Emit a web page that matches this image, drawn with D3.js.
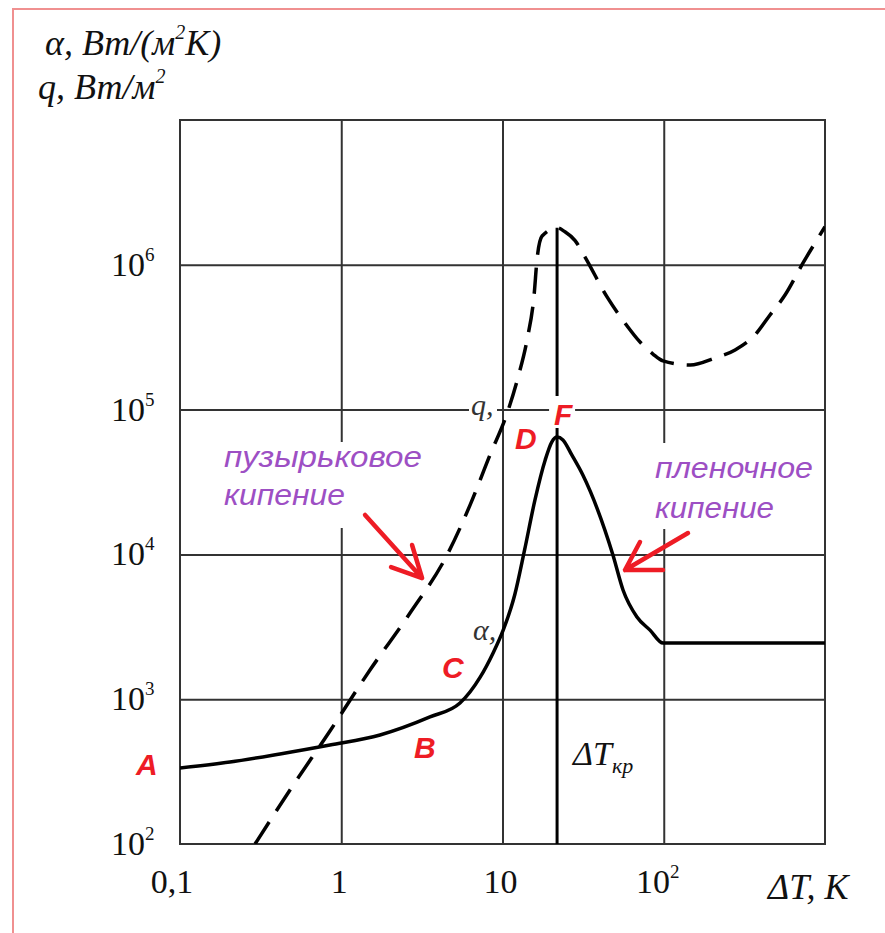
<!DOCTYPE html>
<html>
<head>
<meta charset="utf-8">
<script src="https://cdn.jsdelivr.net/npm/d3@7"></script>
<style>
  body { margin: 0; background: #fff; }
  .serif { font-family: "Liberation Serif", "DejaVu Serif", serif; }
  .sans { font-family: "Liberation Sans", Arial, sans-serif; }
</style>
</head>
<body>
<script>
// Axis ticks
const xTicks = [0.1, 1, 10, 100];
const xTickBase = ["0,1", "1", "10", "10"];
const xTickExp = ["", "", "", "2"];
const yTicks = [1e2, 1e3, 1e4, 1e5, 1e6];
const yTickExp = ["2", "3", "4", "5", "6"];

// q curve (dashed): heat flux vs temperature difference
const qDT = [0.292, 0.481, 0.851, 1.507, 2.67, 4.53, 6.29, 8.36, 10.7, 12.5, 14.2, 15.7, 16.4, 17.6, 21.8,
             24.4, 28.2, 32.5, 44.5, 57.5, 71.3, 85.7, 98.9, 146, 208, 277, 368, 456, 565, 731, 1000];
const qVal = [100, 236, 603, 1590, 3940, 9900, 21900, 48600, 94800, 168000, 303000, 618000, 1110000, 1580000, 1800000,
              1690000, 1470000, 1130000, 600000, 396000, 293000, 242000, 217000, 203000, 227000, 258000, 328000, 450000, 618000, 1030000, 1830000];

// alpha curve (solid): heat transfer coefficient
const aDT = [0.1, 0.204, 0.417, 0.851, 1.74, 3.55, 5.45, 7.27, 8.73, 10.1, 11.9, 13.7, 15.9, 18.4, 20.2, 21.8,
             23.7, 26.9, 31.5, 48.4, 55.9, 68.2, 82.2, 99, 1000];
const aVal = [335, 368, 419, 483, 566, 754, 941, 1420, 2080, 3000, 5240, 10700, 23800, 44900, 59700, 64700,
              61700, 48600, 35300, 9900, 5680, 3700, 3000, 2440, 2440];

const dTcrit = 21.8;

// Setup
const W = 885, H = 933;
const plot = { left: 180, right: 825, top: 120, bottom: 844 };

const svg = d3.select('body').append('svg')
    .attr('width', W)
    .attr('height', H);

svg.append('rect').attr('width', W).attr('height', H).attr('fill', '#fff');

// outer pink frame
svg.append('rect')
    .attr('x', 13).attr('y', 9)
    .attr('width', W + 20).attr('height', H + 20)
    .attr('fill', 'none')
    .attr('stroke', '#f09090')
    .attr('stroke-width', 2);

// Scales
const x = d3.scaleLog().domain([0.1, 1000]).range([plot.left, plot.right]);
const y = d3.scaleLog().domain([100, 1e7]).range([plot.bottom, plot.top]);

const gridColor = '#333';

// Grid from axes
const gx = svg.append('g')
    .attr('transform', `translate(0,${plot.bottom})`)
    .call(d3.axisBottom(x).tickValues([1, 10, 100]).tickSize(-(plot.bottom - plot.top)).tickFormat(''));
gx.select('.domain').remove();
gx.selectAll('line').attr('stroke', gridColor).attr('stroke-width', 2);

const gy = svg.append('g')
    .attr('transform', `translate(${plot.left},0)`)
    .call(d3.axisLeft(y).tickValues([1e3, 1e4, 1e5, 1e6]).tickSize(-(plot.right - plot.left)).tickFormat(''));
gy.select('.domain').remove();
gy.selectAll('line').attr('stroke', gridColor).attr('stroke-width', 2);

svg.append('rect')
    .attr('x', plot.left).attr('y', plot.top)
    .attr('width', plot.right - plot.left).attr('height', plot.bottom - plot.top)
    .attr('fill', 'none')
    .attr('stroke', gridColor)
    .attr('stroke-width', 2);

// Tick labels
xTicks.forEach((v, i) => {
    const t = svg.append('text')
        .attr('class', 'serif')
        .attr('x', x(v) - (i === 0 ? 8 : (i === 3 ? 6 : 2)))
        .attr('y', 893)
        .attr('text-anchor', 'middle')
        .attr('font-size', 34)
        .attr('fill', '#111')
        .text(xTickBase[i]);
    if (xTickExp[i]) {
        t.append('tspan').attr('dy', -15).attr('font-size', 19).text(xTickExp[i]);
    }
});

yTicks.forEach((v, i) => {
    const t = svg.append('text')
        .attr('class', 'serif')
        .attr('x', 111)
        .attr('y', y(v) + 11)
        .attr('font-size', 34)
        .attr('fill', '#111')
        .text('10');
    t.append('tspan').attr('dy', -15).attr('font-size', 19).text(yTickExp[i]);
});

// Axis titles
const t1 = svg.append('text').attr('class', 'serif')
    .attr('x', 45).attr('y', 55)
    .attr('font-size', 36).attr('font-style', 'italic').attr('fill', '#111')
    .text('α, Вт/(м');
t1.append('tspan').attr('dy', -16).attr('font-size', 20).text('2');
t1.append('tspan').attr('dy', 16).text('К)');

const t2 = svg.append('text').attr('class', 'serif')
    .attr('x', 38).attr('y', 99)
    .attr('font-size', 36).attr('font-style', 'italic').attr('fill', '#111')
    .text('q, Вт/м');
t2.append('tspan').attr('dy', -16).attr('font-size', 20).text('2');

svg.append('text').attr('class', 'serif')
    .attr('x', 768).attr('y', 899)
    .attr('font-size', 36).attr('font-style', 'italic').attr('fill', '#111')
    .text('ΔT, K');

// Purple annotations with white boxes over grid
const purple = '#9d4fc4';
svg.append('rect').attr('x', 215).attr('y', 442).attr('width', 218).attr('height', 86).attr('fill', '#fff');
svg.append('rect').attr('x', 645).attr('y', 443).attr('width', 176).attr('height', 86).attr('fill', '#fff');

[['пузырьковое', 224, 467, 198], ['кипение', 224, 505, 121], ['пленочное', 655, 478, 158], ['кипение', 655, 518, 119]]
    .forEach(([s, px, py, len]) => {
        svg.append('text').attr('class', 'sans')
            .attr('x', px).attr('y', py)
            .attr('font-size', 30).attr('font-style', 'italic')
            .attr('fill', purple)
            .attr('textLength', len).attr('lengthAdjust', 'spacingAndGlyphs')
            .text(s);
    });

// Critical temperature difference line
svg.append('line')
    .attr('x1', x(dTcrit)).attr('x2', x(dTcrit))
    .attr('y1', plot.bottom).attr('y2', y(d3.max(qVal.slice(0, 20))))
    .attr('stroke', '#000').attr('stroke-width', 3);

// white boxes behind F and q labels
svg.append('rect').attr('x', x(dTcrit) - 8).attr('y', 396).attr('width', 26).attr('height', 32).attr('fill', '#fff');
svg.append('rect').attr('x', 469).attr('y', 395).attr('width', 28).attr('height', 26).attr('fill', '#fff');

// Curves
svg.append('clipPath').attr('id', 'plotclip')
    .append('rect')
    .attr('x', plot.left).attr('y', plot.top)
    .attr('width', plot.right - plot.left).attr('height', plot.bottom - plot.top);

const line = d3.line()
    .x(d => x(d[0]))
    .y(d => y(d[1]))
    .curve(d3.curveMonotoneX);

svg.append('path')
    .datum(qDT.map((d, i) => [d, qVal[i]]))
    .attr('clip-path', 'url(#plotclip)')
    .attr('d', line)
    .attr('fill', 'none')
    .attr('stroke', '#000')
    .attr('stroke-width', 3.5)
    .attr('stroke-dasharray', '26,13');

svg.append('path')
    .datum(aDT.map((d, i) => [d, aVal[i]]))
    .attr('clip-path', 'url(#plotclip)')
    .attr('d', line)
    .attr('fill', 'none')
    .attr('stroke', '#000')
    .attr('stroke-width', 3.5);

// Curve labels
svg.append('text').attr('class', 'serif')
    .attr('x', 471).attr('y', 415)
    .attr('font-size', 30).attr('font-style', 'italic').attr('fill', '#333')
    .text('q,');
svg.append('text').attr('class', 'serif')
    .attr('x', 473).attr('y', 640)
    .attr('font-size', 30).attr('font-style', 'italic').attr('fill', '#333')
    .text('α,');

const crit = svg.append('text').attr('class', 'serif')
    .attr('x', 573).attr('y', 765)
    .attr('font-size', 34).attr('font-style', 'italic').attr('fill', '#111')
    .text('ΔT');
crit.append('tspan').attr('dy', 8).attr('font-size', 22).text('кр');

// Red point letters
const red = '#ee1c25';
[['A', 136, 775], ['B', 414, 758], ['C', 442, 678], ['D', 515, 449], ['F', 554, 425]].forEach(([s, px, py]) => {
    svg.append('text').attr('class', 'sans')
        .attr('x', px).attr('y', py)
        .attr('font-size', 30).attr('font-weight', 'bold').attr('font-style', 'italic')
        .attr('fill', red)
        .text(s);
});

// Red arrows pointing at the curves
function arrow(tip, tail, w1, w2) {
    const p = d3.path();
    p.moveTo(tip[0] + tail[0], tip[1] + tail[1]); p.lineTo(tip[0], tip[1]);
    p.moveTo(tip[0] + w1[0], tip[1] + w1[1]); p.lineTo(tip[0], tip[1]); p.lineTo(tip[0] + w2[0], tip[1] + w2[1]);
    svg.append('path').attr('d', p.toString())
        .attr('fill', 'none').attr('stroke', red)
        .attr('stroke-width', 4.5).attr('stroke-linecap', 'round').attr('stroke-linejoin', 'round');
}
arrow([x(3.17), y(6870)], [-57, -63], [-31, -11], [-10, -33]);
arrow([x(57.5), y(7800)], [63, -37], [38, 0], [15, -28]);
</script>
</body>
</html>
